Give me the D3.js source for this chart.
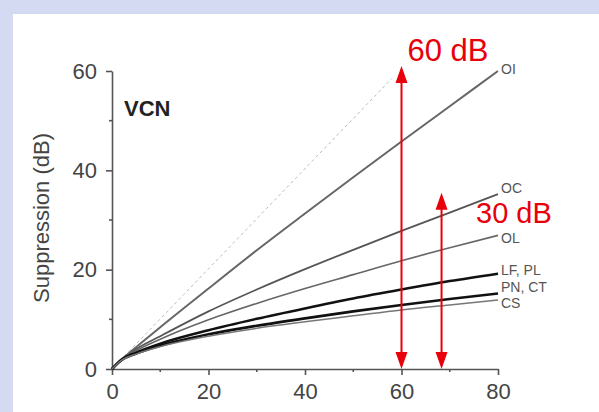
<!DOCTYPE html>
<meta charset="utf-8">
<script src="https://d3js.org/d3.v7.min.js"></script>
<style>
  body { margin: 0; background: #d5daf3; }
  svg { display: block; }
</style>
<div id="my_dataviz"></div>
<script>

    // values
    var xValues = [0, 2, 5, 10, 20, 30, 40, 50, 60, 70, 80];
    var seriesNames = ["OI", "OC", "OL", "LF, PL", "PN, CT", "CS"];
    var oi = [0, 1.9, 4.4, 8.4, 16.2, 23.9, 31.3, 38.6, 45.8, 52.9, 60];
    var oc = [0, 1.9, 4.0, 6.6, 11.6, 16.0, 20.1, 24.0, 27.8, 31.5, 35.2];
    var ol = [0, 1.9, 3.7, 6.0, 9.9, 13.2, 16.2, 19.0, 21.8, 24.4, 26.9];
    var lfpl = [0, 1.9, 3.3, 5.1, 7.8, 10.1, 12.2, 14.2, 16.0, 17.7, 19.2];
    var pnct = [0, 1.8, 3.1, 4.7, 7.0, 8.7, 10.2, 11.6, 12.9, 14.1, 15.2];
    var cs = [0, 1.8, 3.0, 4.5, 6.6, 8.2, 9.5, 10.7, 11.9, 12.9, 13.9];
    var labelY = [60.3, 36.4, 26.3, 20.0, 16.4, 13.2];
    var unityX = [0, 58];
    var unityY = [0, 58.5];
    var arrowX = [60, 68.3];
    var arrowTop = [61, 35.5];
    var arrowText = ["60 dB", "30 dB"];
    var xTicks = [0, 20, 40, 60, 80];
    var yTicks = [0, 20, 40, 60];

    var series = [oi, oc, ol, lfpl, pnct, cs];
    var strokes = ["#666", "#555", "#666", "#111", "#111", "#777"];
    var widths = [2, 1.8, 1.6, 2.6, 2.6, 1.5];

    var W = 599, H = 412;
    var svg = d3.select("#my_dataviz")
        .append("svg")
        .attr("width", W)
        .attr("height", H);

    // white panel
    svg.append("rect")
        .attr("x", 13).attr("y", 14)
        .attr("width", W - 13).attr("height", H - 14)
        .attr("fill", "white");

    var x = d3.scaleLinear().domain([0, 80]).range([112, 498]);
    var y = d3.scaleLinear().domain([0, 60]).range([369, 71]);

    var font = "Liberation Sans, Arial, sans-serif";

    // axes
    var xAxis = svg.append("g")
        .attr("transform", "translate(0," + y(0) + ")")
        .call(d3.axisBottom(x).tickValues(xTicks).tickSize(6).tickPadding(10).tickSizeOuter(0));
    xAxis.selectAll("line.minor")
        .data([10, 30, 50, 70])
        .enter()
        .append("line")
        .attr("class", "minor")
        .attr("x1", function (d) { return x(d) }).attr("x2", function (d) { return x(d) })
        .attr("y1", 0).attr("y2", 3);

    var yAxis = svg.append("g")
        .attr("transform", "translate(" + x(0) + ",0)")
        .call(d3.axisLeft(y).tickValues(yTicks).tickSize(6).tickPadding(9).tickSizeOuter(0));
    yAxis.selectAll("line.minor")
        .data([10, 30, 50])
        .enter()
        .append("line")
        .attr("class", "minor")
        .attr("y1", function (d) { return y(d) }).attr("y2", function (d) { return y(d) })
        .attr("x1", 0).attr("x2", -3);

    svg.selectAll("g .domain, g line")
        .attr("stroke", "#555")
        .attr("stroke-width", 1.6);
    svg.selectAll("g .tick text")
        .attr("font-family", font)
        .attr("font-size", 22)
        .attr("fill", "#444");
    xAxis.selectAll(".tick text").attr("dy", "0.62em");

    svg.append("text")
        .attr("transform", "translate(49,218) rotate(-90)")
        .attr("text-anchor", "middle")
        .attr("font-family", font)
        .attr("font-size", 22)
        .attr("fill", "#444")
        .text("Suppression (dB)");

    svg.append("text")
        .attr("x", 124).attr("y", 116)
        .attr("font-family", font)
        .attr("font-size", 22)
        .attr("font-weight", "bold")
        .attr("fill", "#222")
        .text("VCN");

    // dashed unity line
    svg.append("line")
        .attr("x1", x(unityX[0])).attr("y1", y(unityY[0]))
        .attr("x2", x(unityX[1])).attr("y2", y(unityY[1]))
        .attr("stroke", "#bbb")
        .attr("stroke-width", 1)
        .attr("stroke-dasharray", "3,3");

    var line = d3.line()
        .x(function (d, i) { return x(xValues[i]) })
        .y(function (d) { return y(d) })
        .curve(d3.curveMonotoneX);

    series.forEach(function (s, k) {
        svg.append("path")
            .datum(s)
            .attr("fill", "none")
            .attr("stroke", strokes[k])
            .attr("stroke-width", widths[k])
            .attr("d", line);
        svg.append("text")
            .attr("x", x(80) + 3)
            .attr("y", y(labelY[k]))
            .attr("dy", "0.35em")
            .attr("font-family", font)
            .attr("font-size", 14)
            .attr("fill", "#555")
            .text(seriesNames[k]);
    });

    // red double arrows
    var red = "#e8000a";
    arrowX.forEach(function (ax, k) {
        var px = x(ax), top = y(arrowTop[k]), bot = y(0);
        svg.append("line")
            .attr("x1", px).attr("x2", px)
            .attr("y1", top + 10).attr("y2", bot - 10)
            .attr("stroke", red).attr("stroke-width", 2);
        svg.append("path")
            .attr("d", "M" + px + "," + top + "L" + (px - 6) + "," + (top + 17) + "L" + (px + 6) + "," + (top + 17) + "Z")
            .attr("fill", red);
        svg.append("path")
            .attr("d", "M" + px + "," + bot + "L" + (px - 6) + "," + (bot - 17) + "L" + (px + 6) + "," + (bot - 17) + "Z")
            .attr("fill", red);
    });

    svg.append("text")
        .attr("x", x(arrowX[0]) + 6).attr("y", 61)
        .attr("font-family", font)
        .attr("font-size", 31)
        .attr("fill", red)
        .text(arrowText[0]);
    svg.append("text")
        .attr("x", 476).attr("y", 223)
        .attr("font-family", font)
        .attr("font-size", 29)
        .attr("fill", red)
        .text(arrowText[1]);

</script>
